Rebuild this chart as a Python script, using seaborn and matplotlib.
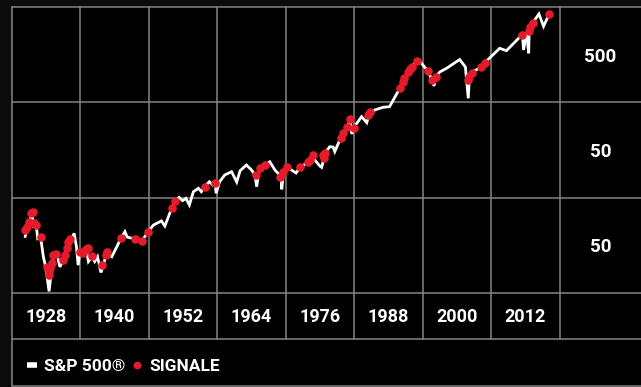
import matplotlib
matplotlib.use("Agg")
import matplotlib.pyplot as plt
from matplotlib.lines import Line2D
from matplotlib.patches import Rectangle
from matplotlib.ticker import NullLocator
import numpy as np
import seaborn as sns

# S&P 500 index path (year, index level)
years = [1924.3, 1924.9, 1925.5, 1925.7, 1926.2, 1926.5, 1927.0, 1927.5, 1927.9, 1928.5,
         1929.0, 1929.4, 1930.0, 1930.4, 1931.0, 1931.9, 1932.5, 1932.9, 1933.3, 1933.6,
         1933.9, 1934.5, 1935.0, 1935.4, 1936.0, 1936.5, 1937.0, 1937.6, 1938.0, 1938.6,
         1939.5, 1941.1, 1941.8, 1942.2, 1943.6, 1944.8, 1945.9, 1946.8, 1948.2, 1948.8,
         1950.0, 1950.6, 1951.3, 1951.9, 1952.5, 1953.1, 1953.8, 1954.7, 1955.2, 1955.8,
         1956.6, 1957.2, 1957.6, 1957.8, 1958.4, 1959.3, 1960.5, 1961.4, 1962.0, 1963.1,
         1964.0, 1964.6, 1964.9, 1965.4, 1966.4, 1967.2, 1968.1, 1969.2, 1969.3, 1969.6,
         1970.3, 1971.0, 1971.8, 1972.5, 1973.8, 1974.6, 1975.1, 1976.0, 1976.3, 1976.7,
         1976.9, 1977.7, 1978.3, 1978.6, 1979.6, 1980.1, 1980.8, 1981.3, 1981.6, 1981.9,
         1983.3, 1984.2, 1984.6, 1985.6, 1987.1, 1988.2, 1990.0, 1990.6, 1991.5, 1992.1,
         1993.1, 1993.7, 1994.9, 1995.6, 1996.0, 1996.3, 1997.0, 1998.2, 2000.5, 2001.5,
         2002.0, 2002.2, 2002.6, 2004.3, 2004.9, 2007.5, 2008.7, 2011.1, 2011.5, 2011.7,
         2012.2, 2012.6, 2012.7, 2013.3, 2014.4, 2015.2, 2016.2]
index_level = [19.5, 25.8, 35.1, 25.8, 27.6, 18.7, 19.5, 12.0, 9.4, 5.2,
               9.4, 13.0, 12.0, 9.4, 11.1, 18.0, 19.0, 21.1, 15.3, 9.8,
               13.6, 12.7, 14.5, 10.7, 12.0, 10.7, 12.0, 8.2, 9.8, 13.0,
               12.0, 18.7, 22.0, 19.3, 18.4, 17.7, 22.0, 25.8, 28.5, 25.2,
               38.7, 46.5, 50.4, 46.5, 49.2, 41.9, 57.7, 62.7, 57.7, 65.2,
               73.5, 67.9, 70.7, 55.6, 73.5, 86.5, 93.6, 73.0, 95.9, 110,
               97.6, 86.5, 65.2, 102, 110, 119, 97.6, 83.0, 61.2, 93.6,
               104, 97.6, 90.8, 104, 116, 140, 124, 107, 104, 129,
               148, 171, 170, 152, 210, 240, 278, 334, 233, 271,
               354, 306, 368, 416, 444, 450, 702, 858, 1048, 1183,
               1390, 1308, 1066, 872, 742, 929, 1040, 1138, 1407, 1174,
               551, 894, 1023, 1183, 1302, 1844, 1741, 2441, 2543, 1770,
               2701, 1635, 2989, 3423, 4224, 3139, 4224]

# Signal events (year, index level)
signal_years = [1924.3, 1924.6, 1924.9, 1925.3, 1925.6, 1925.9, 1926.2, 1927.1,
                1928.1, 1928.4, 1928.5, 1928.7, 1929.0, 1929.2, 1929.8,
                1931.0, 1931.3, 1931.6, 1931.9, 1932.2,
                1933.9, 1934.5, 1935.0, 1935.4, 1936.1,
                1937.8, 1938.4, 1938.6, 1941.1, 1943.6, 1944.8, 1945.9,
                1950.0, 1950.6, 1955.8, 1957.6,
                1964.8, 1965.4, 1966.4, 1969.0, 1969.5, 1970.3,
                1972.5, 1973.9, 1974.2, 1974.7, 1976.5, 1976.7, 1976.9,
                1979.6, 1980.1, 1980.8, 1981.3, 1981.9, 1984.5, 1984.8,
                1990.0, 1990.5, 1990.7, 1991.5, 1991.8, 1992.1, 1993.1,
                1994.9, 1995.6, 1996.3, 2002.0, 2002.2, 2002.6, 2004.3, 2004.9,
                2011.4, 2012.7, 2012.9, 2013.4, 2016.2]
signal_level = [22.9, 24.8, 28.0, 34.3, 35.6, 26.9, 25.8, 19.5,
                9.4, 8.4, 7.7, 9.1, 10.2, 12.5, 12.7,
                11.1, 12.5, 14.7, 17.3, 18.3,
                13.6, 13.0, 14.5, 14.7, 12.2,
                9.8, 12.5, 13.4, 19.0, 18.4, 17.7, 22.0,
                38.7, 46.5, 65.2, 70.7,
                86.5, 102, 110, 83.0, 93.6, 106,
                104, 119, 124, 140, 140, 129, 148,
                210, 240, 278, 334, 271, 368, 399,
                702, 823, 894, 1048, 1119, 1183, 1367,
                1066, 858, 929, 858, 916, 1023, 1183, 1302,
                2543, 2821, 3108, 3423, 4224]

decade_labels = ["1928", "1940", "1952", "1964", "1976", "1988", "2000", "2012"]
level_labels = ["50", "50", "500"]          # bottom row to top row
row_bounds = [5, 50, 500, 5000]
col_start, col_width, n_cols = 1922, 12, 8

LINE_WHITE = "white"
SIGNAL_RED = "#e31b2b"
GRID = "#858585"

sns.set_style("dark")
plt.rcParams["font.family"] = ["Roboto", "DejaVu Sans"]
plt.rcParams["font.weight"] = "bold"

W, H = 641, 387
fig = plt.figure(figsize=(W / 100, H / 100), dpi=100)
fig.patch.set_facecolor("#0b0b0b")
fig.add_artist(Rectangle((12 / W, 0), 1 - 12 / W, 1 - 7 / H, transform=fig.transFigure,
                         facecolor="black", edgecolor="none", zorder=-3))

ax = fig.add_axes([12 / W, 1 - 293 / H, 547.5 / W, 286 / H])
ax.set_facecolor("none")

sns.lineplot(x=years, y=index_level, ax=ax, color=LINE_WHITE, linewidth=2.0,
             estimator=None, sort=False, solid_joinstyle="miter", zorder=2)
sns.scatterplot(x=signal_years, y=signal_level, ax=ax, color=SIGNAL_RED, s=38,
                linewidth=0, zorder=3)

ax.set_yscale("log")
ax.set_xlim(col_start, col_start + col_width * n_cols)
ax.set_ylim(row_bounds[0], row_bounds[-1])
for s in ax.spines.values():
    s.set_visible(False)
ax.grid(False)
ax.set_xlabel("")
ax.set_ylabel("")

# year labels centred in each column
centres = [col_start + col_width * (k + 0.5) for k in range(n_cols)]
ax.set_xticks(centres, decade_labels)
ax.tick_params(axis="x", length=0, pad=17, labelsize=13, labelcolor="white")
for lab in ax.get_xticklabels():
    lab.set_va("center")
    lab.set_fontweight("bold")

# level labels centred in each row, inside the right-hand column
row_centres = [np.sqrt(a * b) for a, b in zip(row_bounds[:-1], row_bounds[1:])]
ax.yaxis.tick_right()
ax.set_yticks(row_centres, level_labels)
ax.yaxis.set_minor_locator(NullLocator())
ax.tick_params(axis="y", which="both", length=0, pad=29.5, labelsize=13.5,
               labelcolor="white", left=False, right=False)
for lab in ax.get_yticklabels():
    lab.set_ha("center")
    lab.set_fontweight("bold")

# table grid in figure coordinates
to_fig = lambda pt: fig.transFigure.inverted().transform(ax.transData.transform(pt))
x_edges = [to_fig((col_start + col_width * k, row_bounds[0]))[0] for k in range(n_cols + 1)]
y_edges = [to_fig((col_start, v))[1] for v in row_bounds]
y_label_row = 1 - 339 / H
y_bottom = 1 - 386 / H
line_kw = dict(color=GRID, linewidth=1.1, transform=fig.transFigure, zorder=-1)
for yv in y_edges + [y_label_row, y_bottom]:
    fig.add_artist(Line2D([x_edges[0], 1.0], [yv, yv], **line_kw))
fig.add_artist(Line2D([x_edges[0], x_edges[0]], [y_bottom, y_edges[-1]], **line_kw))
for xv in x_edges[1:]:
    fig.add_artist(Line2D([xv, xv], [y_label_row, y_edges[-1]], **line_kw))

# legend row
handles = [Line2D([], [], color=LINE_WHITE, linewidth=4, solid_capstyle="butt"),
           Line2D([], [], color=SIGNAL_RED, marker="o", linestyle="", markersize=5.6,
                  markeredgewidth=0)]
leg = fig.legend(handles, ["S&P 500®", "SIGNALE"], loc="center left",
                 bbox_to_anchor=(27 / W, 1 - 366 / H), ncol=2, frameon=False,
                 borderpad=0, borderaxespad=0, handlelength=0.55, handletextpad=0.45,
                 columnspacing=0.35, prop={"size": 12.5, "weight": "bold"})
for t in leg.get_texts():
    t.set_color("white")

fig.savefig("out.png", dpi=100, facecolor=fig.get_facecolor())
